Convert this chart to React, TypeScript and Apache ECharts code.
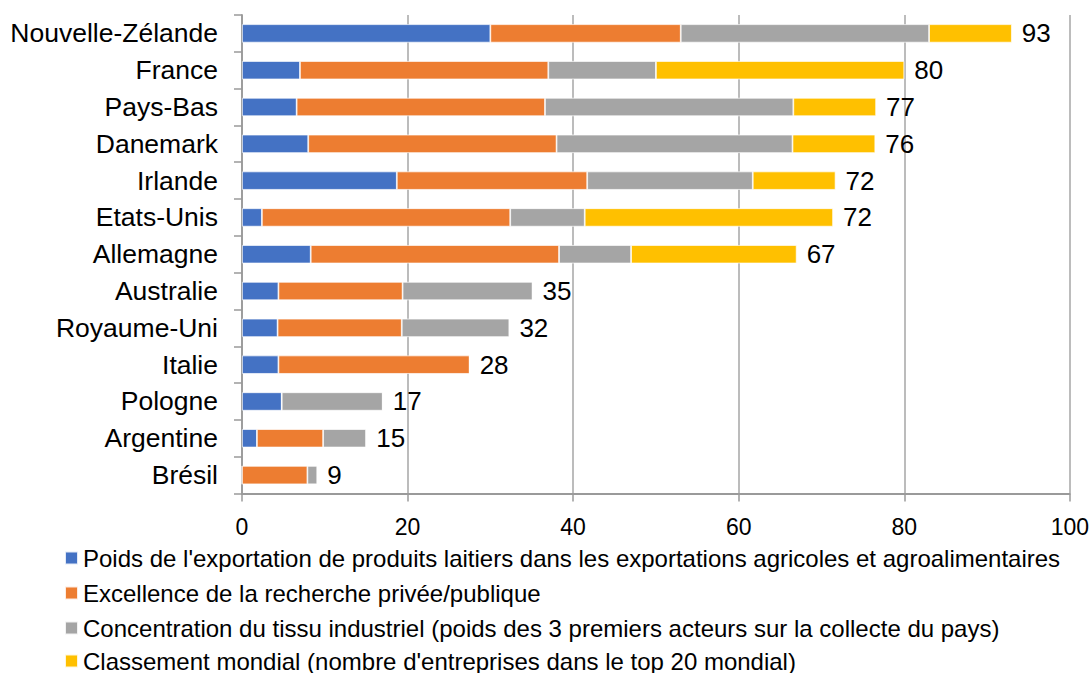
import React, { useEffect, useRef } from "react";
import * as echarts from "echarts";

const categories = [
  "Nouvelle-Zélande",
  "France",
  "Pays-Bas",
  "Danemark",
  "Irlande",
  "Etats-Unis",
  "Allemagne",
  "Australie",
  "Royaume-Uni",
  "Italie",
  "Pologne",
  "Argentine",
  "Brésil",
];

const seriesNames = [
  "Poids de l'exportation de produits laitiers dans les exportations agricoles et agroalimentaires",
  "Excellence de la recherche privée/publique",
  "Concentration du tissu industriel (poids des 3 premiers acteurs sur la collecte du pays)",
  "Classement mondial (nombre d'entreprises dans le top 20 mondial)",
];

const exportWeight = [30, 7, 6.6, 8, 18.7, 2.4, 8.3, 4.4, 4.3, 4.4, 4.8, 1.8, 0];
const research = [23, 30, 30, 30, 23, 30, 30, 15, 15, 23.1, 0, 8, 7.9];
const concentration = [30, 13, 30, 28.5, 20, 9, 8.7, 15.7, 13, 0, 12.2, 5.2, 1.2];
const ranking = [10, 30, 10, 10, 10, 30, 20, 0, 0, 0, 0, 0, 0];
const totals = [93, 80, 77, 76, 72, 72, 67, 35, 32, 28, 17, 15, 9];

const xTicks = { min: 0, max: 100, interval: 20 };

const colors = ["#4472C4", "#ED7D31", "#A5A5A5", "#FFC000"];
const FONT = "'Liberation Sans', Arial, sans-serif";
const legendTops = [546, 581, 616, 649];

export default function App() {
  const ref = useRef<HTMLDivElement>(null);

  useEffect(() => {
    if (!ref.current) return;
    const chart = echarts.init(ref.current, undefined, { renderer: "svg" });
    const values = [exportWeight, research, concentration, ranking];
    const series: any[] = values.map((d, i) => ({
      name: seriesNames[i],
      type: "bar",
      stack: "total",
      data: d,
      barWidth: "50%",
      itemStyle: { color: colors[i], borderColor: "rgba(255,255,255,0.85)", borderWidth: 0.8 },
    }));
    series.push({
      name: "Total",
      type: "bar",
      stack: "total",
      data: totals.map(() => 0),
      barWidth: "50%",
      itemStyle: { color: "transparent" },
      label: {
        show: true,
        position: "right",
        distance: 10,
        fontSize: 26,
        fontFamily: FONT,
        color: "#000",
        formatter: (p: any) => String(totals[p.dataIndex]),
      },
    });

    const legends = seriesNames.map((name, i) => ({
      data: [name],
      orient: "horizontal",
      left: 64,
      top: legendTops[i],
      padding: 0,
      itemWidth: 13,
      itemHeight: 13,
      icon: "rect",
      textStyle: { fontSize: 24, lineHeight: 24, color: "#000", fontFamily: FONT },
      selectedMode: false,
    }));

    chart.setOption({
      animation: false,
      color: colors,
      textStyle: { fontFamily: FONT },
      grid: { left: 242, right: 21, top: 15, bottom: 179.5, containLabel: false },
      legend: legends,
      xAxis: {
        type: "value",
        min: xTicks.min,
        max: xTicks.max,
        interval: xTicks.interval,
        axisLine: { show: true, lineStyle: { color: "#9a9a9a", width: 1.8 } },
        axisTick: { show: true, length: 8, lineStyle: { color: "#9a9a9a", width: 1.5 } },
        axisLabel: { fontSize: 23, color: "#000", margin: 22, fontFamily: FONT },
        splitLine: { show: true, lineStyle: { color: "#a6a6a6", width: 1.5 } },
      },
      yAxis: {
        type: "category",
        data: categories,
        inverse: true,
        axisLine: { show: true, lineStyle: { color: "#9a9a9a", width: 1.8 } },
        axisTick: { show: true, length: 8, lineStyle: { color: "#9a9a9a", width: 1.5 } },
        axisLabel: { fontSize: 26.5, color: "#000", margin: 24, fontFamily: FONT },
      },
      series,
    });
    return () => chart.dispose();
  }, []);

  return (
    <div
      ref={ref}
      style={{ position: "fixed", left: 0, top: 0, width: 1092, height: 673, background: "#fff" }}
    />
  );
}
